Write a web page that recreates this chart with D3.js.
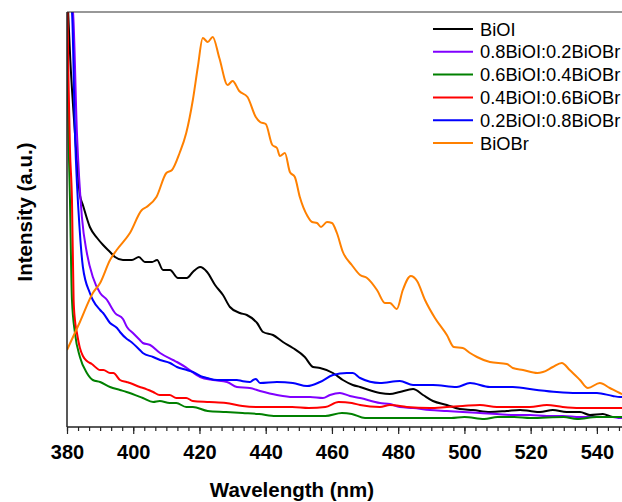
<!DOCTYPE html>
<html lang="en">
<head>
    <meta charset="UTF-8">
    <title>PL spectra - BiOI / BiOBr</title>
    <script src="https://d3js.org/d3.v7.min.js"></script>
    <style>
        body {
            margin: 0;
            background: #fff;
            font-family: Arial, "Liberation Sans", sans-serif;
        }
        .tick-label {
            font-size: 20px;
            font-weight: bold;
        }
        .axis-title {
            font-size: 20.5px;
            font-weight: bold;
        }
        .legend-label {
            font-size: 18.3px;
        }
    </style>
</head>
<body>
    <svg id="chart"></svg>

    <script>
        // series names, legend order
        const seriesNames = ["BiOI", "0.8BiOI:0.2BiOBr", "0.6BiOI:0.4BiOBr",
                             "0.4BiOI:0.6BiOBr", "0.2BiOI:0.8BiOBr", "BiOBr"];
        const seriesColors = ["#000000", "#8000ff", "#008000", "#ff0000", "#0000ff", "#ff8000"];

        const xTicks = [380, 400, 420, 440, 460, 480, 500, 520, 540];

        // [wavelength (nm), intensity (a.u.)]
        const biOI = [
            [380, 440], [381, 367], [382.4, 294], [383.9, 232], [384.8, 222], [386.9, 200],
            [389.1, 189], [390.9, 182], [393, 175], [394.5, 170], [396.9, 167], [399.6, 167],
            [401.7, 170], [403.5, 165], [405.7, 165], [407.2, 167], [409, 157], [411.1, 157],
            [413.5, 149], [416.2, 149], [418, 155], [420.2, 160], [422.3, 155], [424.7, 142],
            [427.1, 132], [429.2, 120], [432.2, 114], [434.3, 112], [437.4, 104], [439.2, 95],
            [442.2, 92], [445.2, 85], [448.2, 79], [451.8, 70], [454.3, 60], [456.4, 59],
            [460.3, 54], [463.3, 47], [466.3, 42], [468.5, 40], [474.5, 34], [477.5, 33],
            [480.5, 35], [484.5, 38], [487.5, 32], [490.5, 26], [494.7, 22], [498.6, 18],
            [502.6, 17], [507.7, 15], [512.8, 16], [516.8, 17], [519.8, 16], [522.8, 15],
            [526.7, 17], [530.9, 15], [534.9, 15], [537.9, 12], [541.8, 13], [544.8, 10],
            [547, 10], [550, 9]
        ];
        const biOI08 = [
            [380, 440], [381.8, 415], [383, 294], [384.5, 210], [386, 174], [387.8, 150],
            [390, 134], [392.1, 127], [393, 122], [394.5, 114], [396.9, 108], [398.1, 100],
            [399.9, 94], [402, 87], [402.9, 84], [405.1, 82], [408.1, 74], [412, 67],
            [413.2, 65], [416.2, 59], [420.2, 50], [424.1, 47], [428.3, 45], [431.3, 40],
            [435.2, 39], [438.3, 36], [443.4, 32], [448.2, 30], [453.4, 30], [457.3, 29],
            [459.4, 32], [462.4, 34], [465.4, 31], [468.5, 29], [474.5, 24], [477.5, 23],
            [480.5, 20], [484.5, 19], [489.6, 17], [494.7, 16], [499.5, 15], [504.7, 14],
            [509.8, 13], [514.6, 12], [519.8, 12], [524.9, 11], [529.7, 11], [534.9, 10],
            [540, 10], [544.8, 10], [547, 9], [550, 9]
        ];
        const biOI06 = [
            [380, 430], [380.3, 327], [380.9, 227], [381.5, 127], [382.4, 94], [383.9, 70],
            [386, 54], [387.8, 47], [390, 45], [393, 40], [396, 37], [398, 35], [402.9, 29],
            [406, 25], [408, 26], [411, 24], [413, 24], [416, 20], [418, 20], [422.5, 16],
            [428, 15], [433, 14], [438, 13], [443, 11], [448, 11], [453, 11], [458, 11],
            [463, 14], [466, 13], [470, 9], [480, 9], [490, 9], [496, 9], [500, 10],
            [506, 8], [510, 10], [515, 10], [520, 9], [530, 10], [534, 8], [540, 10],
            [547, 10], [550, 10]
        ];
        const biOI04 = [
            [380, 440], [380.15, 415], [380.45, 347], [380.9, 277], [381.5, 227], [382, 127],
            [382.4, 107], [383, 94], [383.9, 79], [384.8, 71], [386, 66], [387.5, 63],
            [390, 57], [391, 57], [393, 54], [394, 54], [396, 47], [398, 45], [399, 44],
            [402, 40], [403, 39], [406, 35], [408, 32], [411, 32], [413, 29], [416, 29],
            [418, 26], [423, 25], [428, 24], [433, 21], [438, 20], [443, 20], [448, 20],
            [453, 19], [458, 20], [462, 25], [466, 24], [468.5, 22], [474.5, 20], [477.5, 22],
            [482.6, 20], [489.6, 19], [494.7, 20], [499.5, 21], [504.7, 22], [509.8, 20],
            [514.6, 20], [519.8, 20], [524.9, 22], [529.7, 20], [534.9, 19], [540, 19],
            [546.9, 19], [550, 19]
        ];
        const biOI02 = [
            [380, 440], [381.5, 415], [382.4, 294], [383.9, 194], [384.8, 160], [386.9, 134],
            [387.8, 127], [390, 117], [390.9, 114], [393, 104], [395.1, 99], [396, 95],
            [398.1, 88], [399, 86], [402, 77], [402.9, 74], [406, 70], [408.1, 67],
            [411.1, 64], [413.2, 60], [416.2, 57], [418, 55], [421.1, 50], [422.3, 49],
            [425.3, 47], [428.3, 47], [431.3, 47], [432.8, 46], [435.2, 45], [436.2, 47],
            [437, 48], [438.3, 44], [443.4, 45], [448.2, 44], [452.5, 41], [456.4, 45],
            [460.3, 52], [464.5, 54], [466.3, 54], [468.5, 49], [474.5, 44], [480.5, 46],
            [484.5, 42], [490.5, 42], [497.7, 40], [501.7, 44], [507.7, 40], [514.6, 40],
            [521.9, 37], [527.9, 35], [533.9, 34], [540, 34], [544.8, 31], [547, 30], [550, 30]
        ];
        const biOBr = [
            [380, 77], [383.9, 105], [387.8, 134], [390, 144], [393, 167], [395, 177],
            [399, 194], [402.6, 217], [404, 220], [407, 230], [410, 254], [411.7, 257],
            [414, 274], [416, 294], [418, 327], [419.5, 360], [421, 389], [422.5, 385],
            [424, 390], [426, 369], [428.5, 342], [430, 346], [432, 336], [434.5, 330],
            [437, 310], [438.3, 305], [440, 303], [442, 282], [443.4, 279], [444.3, 271],
            [445.8, 274], [447.3, 255], [448.8, 250], [450.3, 230], [452.6, 211], [454, 205],
            [455.5, 204], [456.7, 200], [458.5, 205], [460, 204], [461.5, 194], [463.3, 175],
            [466, 162], [468.5, 152], [470.6, 149], [473.6, 137], [476, 124], [477.5, 124],
            [479.6, 118], [481.4, 137], [483.8, 151], [485.7, 146], [488.1, 127], [491.1, 109],
            [494.7, 92], [496.8, 80], [499.5, 79], [501.7, 74], [503.8, 70], [507.7, 65],
            [512.8, 63], [514.6, 59], [517.7, 57], [522, 54], [523.7, 55], [526.7, 60],
            [529.4, 64], [531.8, 57], [534.9, 47], [537.3, 39], [540.9, 44], [543.9, 39],
            [546.9, 34], [550, 30]
        ];
        const seriesData = [biOI, biOI08, biOI06, biOI04, biOI02, biOBr];

        const width = 622;
        const height = 502;
        const margin = {left: 67, top: 12, bottom: 75};
        const plotRight = 622;

        const svg = d3.select("#chart")
                      .attr("width", width)
                      .attr("height", height);

        const x = d3.scaleLinear()
                    .domain([380, 550])
                    .range([margin.left, 630]);

        const y = d3.scaleLinear()
                    .domain([0, 415])
                    .range([height - margin.bottom, margin.top]);

        const bottomY = height - margin.bottom;

        svg.append("clipPath")
           .attr("id", "plot-clip")
           .append("rect")
           .attr("x", margin.left)
           .attr("y", margin.top)
           .attr("width", plotRight - margin.left)
           .attr("height", bottomY - margin.top);

        const line = d3.line()
                       .x(d => x(d[0]))
                       .y(d => y(d[1]))
                       .curve(d3.curveMonotoneX);

        const curves = svg.append("g").attr("clip-path", "url(#plot-clip)");
        seriesData.forEach((data, i) => {
            curves.append("path")
                  .datum(data)
                  .attr("fill", "none")
                  .attr("stroke", seriesColors[i])
                  .attr("stroke-width", 2)
                  .attr("stroke-linejoin", "round")
                  .attr("d", line);
        });

        // x axis with major ticks and 5 minor ticks between
        const minorTicks = d3.range(380, 551, 20 / 6).filter(v => x(v) <= plotRight);
        const xAxisMinor = d3.axisBottom(x).tickValues(minorTicks).tickSize(4).tickFormat("");
        const xAxis = d3.axisBottom(x).tickValues(xTicks).tickSize(7).tickPadding(11);

        svg.append("g")
           .attr("transform", `translate(0, ${bottomY})`)
           .call(xAxisMinor)
           .call(g => g.select(".domain").remove())
           .selectAll("line").attr("stroke", "#222").attr("stroke-width", 1.2);

        const xg = svg.append("g")
                      .attr("transform", `translate(0, ${bottomY})`)
                      .call(xAxis);
        xg.select(".domain").remove();
        xg.selectAll("line").attr("stroke", "#222").attr("stroke-width", 1.2);
        xg.selectAll("text")
          .attr("class", "tick-label")
          .attr("fill", "#000")
          .attr("font-family", "Arial, 'Liberation Sans', sans-serif");

        // frame: bottom, left, top
        svg.append("line")
           .attr("x1", margin.left).attr("x2", plotRight)
           .attr("y1", bottomY).attr("y2", bottomY)
           .attr("stroke", "#222").attr("stroke-width", 1.5);
        svg.append("line")
           .attr("x1", margin.left).attr("x2", margin.left)
           .attr("y1", margin.top).attr("y2", bottomY)
           .attr("stroke", "#222").attr("stroke-width", 1.5);
        svg.append("line")
           .attr("x1", margin.left).attr("x2", plotRight)
           .attr("y1", margin.top).attr("y2", margin.top)
           .attr("stroke", "#333").attr("stroke-width", 1.2);

        // axis titles
        svg.append("text")
           .attr("class", "axis-title")
           .attr("x", 292)
           .attr("y", 497)
           .attr("text-anchor", "middle")
           .text("Wavelength (nm)");

        svg.append("text")
           .attr("class", "axis-title")
           .attr("transform", "translate(32, 212) rotate(-90)")
           .attr("text-anchor", "middle")
           .text("Intensity (a.u.)");

        // legend
        const legend = svg.append("g").attr("transform", "translate(433, 29)");
        seriesNames.forEach((name, i) => {
            const row = legend.append("g").attr("transform", `translate(0, ${i * 22.8})`);
            row.append("line")
               .attr("x1", 0).attr("x2", 40)
               .attr("y1", 0).attr("y2", 0)
               .attr("stroke", seriesColors[i])
               .attr("stroke-width", 2);
            row.append("text")
               .attr("class", "legend-label")
               .attr("x", 47)
               .attr("y", 6.5)
               .text(name);
        });
    </script>
</body>
</html>
